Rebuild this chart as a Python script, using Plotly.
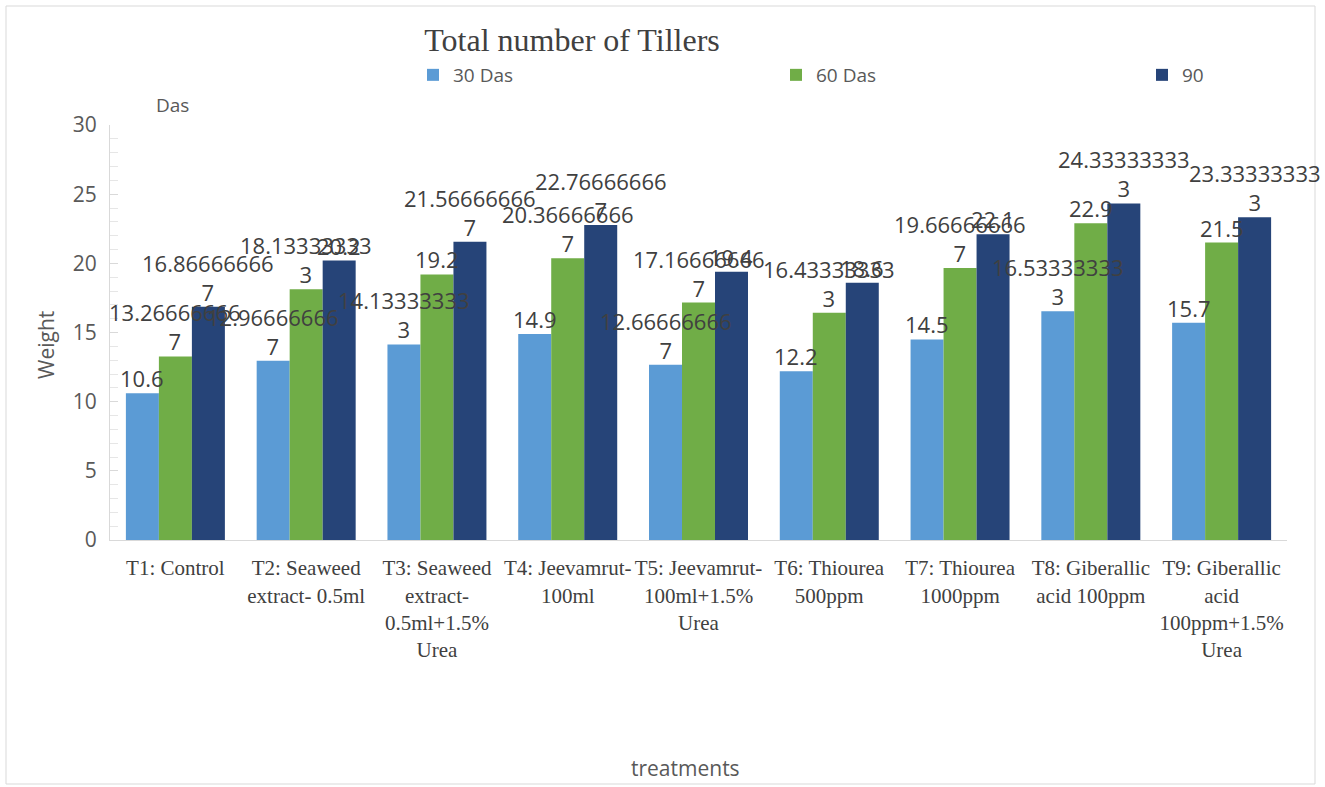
import plotly.graph_objects as go

# Treatments (x-axis categories, wrapped as printed under each group)
treatments = [
    "T1: Control",
    "T2: Seaweed<br>extract- 0.5ml",
    "T3: Seaweed<br>extract-<br>0.5ml+1.5%<br>Urea",
    "T4: Jeevamrut-<br>100ml",
    "T5: Jeevamrut-<br>100ml+1.5%<br>Urea",
    "T6: Thiourea<br>500ppm",
    "T7: Thiourea<br>1000ppm",
    "T8: Giberallic<br>acid 100ppm",
    "T9: Giberallic<br>acid<br>100ppm+1.5%<br>Urea",
]

# Tiller counts per sampling date
das_30 = [10.6, 12.966666667, 14.133333333, 14.9, 12.666666667, 12.2, 14.5, 16.533333333, 15.7]
das_60 = [13.266666667, 18.133333333, 19.2, 20.366666667, 17.166666667, 16.433333333, 19.666666667, 22.9, 21.5]
das_90 = [16.866666667, 20.2, 21.566666667, 22.766666667, 19.4, 18.6, 22.1, 24.333333333, 23.333333333]

series_names = ["30 Das", "60 Das", "90"]
series_colors = ["#5B9BD5", "#70AD47", "#264478"]
legend_left_px = [413, 776, 1142]

SANS = "Open Sans"
SERIF = "Liberation Serif"

# Plot-area placement in pixels
W, H = 1325, 787
L, R, T, B = 110, 1287, 125, 540
BARGAP = 0.243
N_CAT = len(treatments)
BAR_PX = (R - L) / N_CAT * (1 - BARGAP) / len(series_names)


def px_x(x):
    return (x - L) / (R - L)


def px_y(y):
    return (B - y) / (B - T)


def value_label(v):
    """General-format label, wrapped after 11 characters."""
    s = f"{v:.9f}".rstrip("0").rstrip(".")
    if len(s) > 11:
        s = s[:11] + "<br>" + s[11:]
    return s


fig = go.Figure()
all_series = [das_30, das_60, das_90]
for i, (name, vals, color) in enumerate(zip(series_names, all_series, series_colors)):
    fig.add_trace(go.Bar(
        name=name,
        x=treatments,
        y=vals,
        marker=dict(color=color, line=dict(width=0)),
        legend="legend" if i == 0 else f"legend{i + 1}",
        hoverinfo="x+y+name",
    ))

# Value labels, drawn above all bars so overlapping labels stay visible
for i, vals in enumerate(all_series):
    for cat, v in zip(treatments, vals):
        fig.add_annotation(
            x=cat, y=v, xref="x", yref="y",
            text=value_label(v),
            showarrow=False,
            xanchor="center", yanchor="bottom",
            xshift=(i - 1) * BAR_PX, yshift=-1,
            font=dict(family=SANS, size=22, color="#404040"),
            borderpad=0,
        )

legend_common = dict(
    orientation="h",
    y=px_y(75), yanchor="middle", xanchor="left",
    font=dict(family=SANS, size=19, color="#595959"),
    bgcolor="rgba(0,0,0,0)",
)

fig.update_layout(
    width=W,
    height=H,
    barmode="group",
    bargap=BARGAP,
    bargroupgap=0,
    plot_bgcolor="white",
    paper_bgcolor="white",
    margin=dict(l=L, r=W - R, t=T, b=H - B, pad=0),
    title=dict(
        text="Total number of Tillers",
        font=dict(family=SERIF, size=32, color="#404040"),
        x=572 / W, xref="container", xanchor="center",
        y=1 - 40 / H, yref="container", yanchor="middle",
    ),
    legend=dict(x=px_x(legend_left_px[0]), **legend_common),
    legend2=dict(x=px_x(legend_left_px[1]), **legend_common),
    legend3=dict(x=px_x(legend_left_px[2]), **legend_common),
    xaxis=dict(
        range=[-0.5, N_CAT - 0.5],
        autorange=False,
        showline=True, linecolor="#D9D9D9", linewidth=1,
        showgrid=False, ticks="",
        ticklabelstandoff=9,
        tickfont=dict(family=SERIF, size=21, color="#404040"),
        tickangle=0,
    ),
    yaxis=dict(
        range=[0, 30],
        autorange=False,
        dtick=5,
        showline=True, linecolor="#D9D9D9", linewidth=1,
        showgrid=False, zeroline=False,
        ticks="inside", ticklen=8, tickcolor="#D9D9D9",
        minor=dict(dtick=1, ticks="inside", ticklen=8, tickcolor="#E6E6E6", showgrid=False),
        ticklabelstandoff=8,
        tickfont=dict(family=SANS, size=21, color="#595959"),
    ),
    showlegend=True,
)

# Chart frame
fig.add_shape(
    type="rect", xref="paper", yref="paper",
    x0=px_x(6), x1=px_x(1315), y0=px_y(784), y1=px_y(6),
    line=dict(color="#D9D9D9", width=1), fillcolor="rgba(0,0,0,0)", layer="below",
)

# Axis titles and the stray legend fragment
fig.add_annotation(
    text="Weight", xref="paper", yref="paper",
    x=px_x(46), y=px_y(345), textangle=-90, showarrow=False,
    xanchor="center", yanchor="middle",
    font=dict(family=SANS, size=21, color="#595959"),
)
fig.add_annotation(
    text="treatments", xref="paper", yref="paper",
    x=px_x(685), y=px_y(768), showarrow=False,
    xanchor="center", yanchor="middle",
    font=dict(family=SANS, size=21, color="#595959"),
)
fig.add_annotation(
    text="Das", xref="paper", yref="paper",
    x=px_x(172), y=px_y(105), showarrow=False,
    xanchor="center", yanchor="middle",
    font=dict(family=SANS, size=19, color="#595959"),
)

fig.write_html("out.html")
